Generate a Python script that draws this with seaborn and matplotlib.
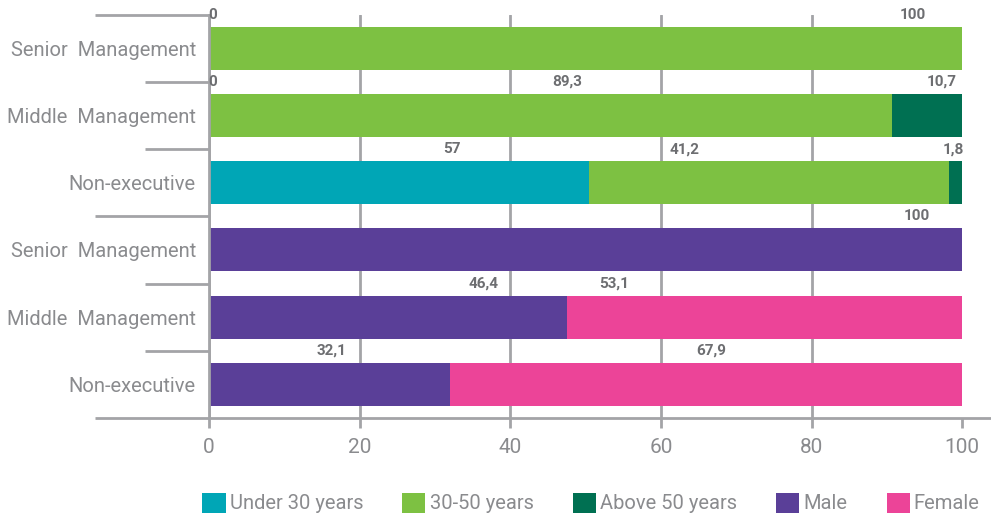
import matplotlib
matplotlib.use("Agg")
import matplotlib.pyplot as plt
from matplotlib.patches import Patch
import seaborn as sns
import pandas as pd

# ---------------- data ----------------
row_labels = ["Senior  Management", "Middle  Management", "Non-executive",
              "Senior  Management", "Middle  Management", "Non-executive"]
row_ids = ["age_senior", "age_middle", "age_nonexec",
           "gen_senior", "gen_middle", "gen_nonexec"]

# bar lengths as drawn (%)
under30 = [0, 0, 50.5]
age_30_50 = [100, 90.7, 47.8]
above50 = [0, 9.3, 1.7]
male = [100, 47.5, 32.0]
female = [0, 52.5, 68.0]

# printed value labels
lab_under30 = [0, 0, 57]
lab_30_50 = [100, 89.3, 41.2]
lab_above50 = [None, 10.7, 1.8]
lab_male = [100, 46.4, 32.1]
lab_female = [None, 53.1, 67.9]

# where the printed labels sit along the value axis
lab_pos_under30 = [0.5, 0.5, 32.3]
lab_pos_30_50 = [93.5, 47.5, 63.1]
lab_pos_above50 = [None, 97.3, 98.8]
lab_pos_male = [94.0, 36.5, 16.2]
lab_pos_female = [None, 53.8, 66.7]

legend_labels = ["Under 30 years", "30-50 years", "Above 50 years", "Male", "Female"]
colors = ["#00A6B6", "#7DC142", "#007052", "#5A3F98", "#EC4498"]

# ---------------- style ----------------
sns.set_theme(style="white")
plt.rcParams["font.family"] = ["Roboto", "DejaVu Sans"]
GRAY = "#a3a4a7"
TXT = "#8a8b8e"
VAL = "#6d6e71"

fig = plt.figure(figsize=(9.91, 5.18), dpi=100)
ax = fig.add_axes([209 / 991, (518 - 418) / 518, 781 / 991, 403.3 / 518])

age_ids = row_ids[:3]
gen_ids = row_ids[3:]

cum1 = list(under30)
cum2 = [a + b for a, b in zip(under30, age_30_50)]
cum3 = [a + b + c for a, b, c in zip(under30, age_30_50, above50)]
gcum1 = list(male)
gcum2 = [a + b for a, b in zip(male, female)]

layers = [
    (cum3, age_ids, colors[2]),
    (cum2, age_ids, colors[1]),
    (cum1, age_ids, colors[0]),
    (gcum2, gen_ids, colors[4]),
    (gcum1, gen_ids, colors[3]),
]
for vals, ids, col in layers:
    df = pd.DataFrame({"row": ids, "value": vals})
    sns.barplot(data=df, x="value", y="row", order=row_ids, orient="h",
                color=col, saturation=1, width=0.64, errorbar=None,
                linewidth=0, ax=ax, zorder=3)

ax.set_xlim(0, 103.7)
ax.set_ylim(5.5, -0.5)
ax.set_xlabel("")
ax.set_ylabel("")
ax.set_xticks([0, 20, 40, 60, 80, 100])
ax.set_xticklabels(["0", "20", "40", "60", "80", "100"])
ax.set_yticks(range(6))
ax.set_yticklabels(row_labels)

ax.xaxis.grid(True, color=GRAY, linewidth=2)
ax.yaxis.grid(False)
ax.set_axisbelow(True)
gl = ax.xaxis.get_gridlines()
gl[-1].set_visible(False)

for s in ["top", "right"]:
    ax.spines[s].set_visible(False)
for s in ["left", "bottom"]:
    ax.spines[s].set_color(GRAY)
    ax.spines[s].set_linewidth(2)
    ax.spines[s].set_zorder(4)

ax.tick_params(axis="x", direction="out", length=7.2, width=2, color=GRAY,
               labelsize=15, labelcolor=TXT, pad=7, bottom=True)
ax.tick_params(axis="y", length=0, pad=9.4, labelsize=14.5, labelcolor=TXT, left=False)

# category separator strokes left of the axis
tr = ax.get_yaxis_transform()
for y, x0 in [(-0.5, -114 / 781), (0.5, -64 / 781), (1.5, -64 / 781),
              (2.5, -114 / 781), (3.5, -64 / 781), (4.5, -64 / 781),
              (5.5, -114 / 781)]:
    ax.plot([x0, 0], [y, y], transform=tr, color=GRAY, lw=2,
            clip_on=False, solid_capstyle="butt", zorder=4)


def fmt(v):
    if v is None:
        return None
    s = f"{v:g}"
    return s.replace(".", ",")


def put_labels(vals, poss, offset):
    for i, (v, p) in enumerate(zip(vals, poss)):
        if v is None:
            continue
        ax.text(p, i + offset - 0.5, fmt(v), ha="center", va="center",
                fontsize=11, fontweight="bold", color=VAL, zorder=5)


put_labels(lab_under30, lab_pos_under30, 0)
put_labels(lab_30_50, lab_pos_30_50, 0)
put_labels(lab_above50, lab_pos_above50, 0)
put_labels(lab_male, lab_pos_male, 3)
put_labels(lab_female, lab_pos_female, 3)

handles = [Patch(facecolor=c, edgecolor="none") for c in colors]
leg = fig.legend(handles, legend_labels, loc="center", ncol=5, frameon=False,
                 bbox_to_anchor=(591 / 991, (518 - 503) / 518),
                 fontsize=14.5, handlelength=1.15, handleheight=1.15,
                 handletextpad=0.2, columnspacing=1.95, borderaxespad=0)
for t in leg.get_texts():
    t.set_color(TXT)

fig.savefig("out.png", dpi=100)
